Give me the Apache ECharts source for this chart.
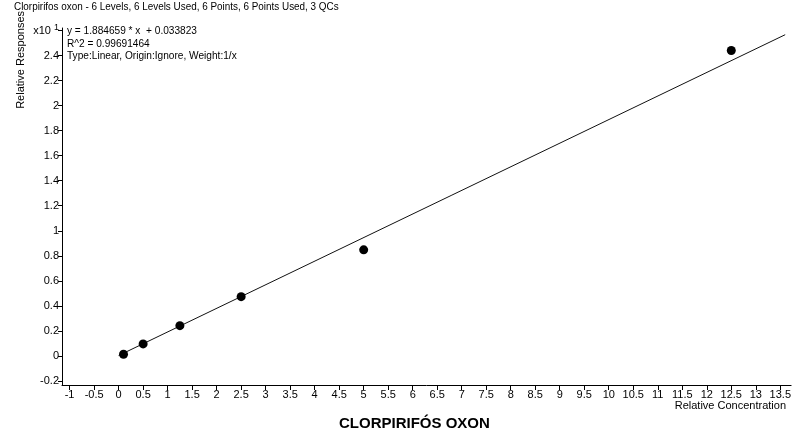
<!DOCTYPE html>
<html>
<head>
<meta charset="utf-8">
<script src="https://cdn.jsdelivr.net/npm/echarts@6/dist/echarts.min.js"></script>
<style>
  html, body { margin: 0; padding: 0; background: #fff; }
  #chart { width: 794px; height: 444px; }
</style>
</head>
<body>
<div id="chart"></div>
<script>
// Calibration points (relative concentration vs relative response, x10^1)
const concentrations = [0.1, 0.5, 1.25, 2.5, 5, 12.5];
const responses = [0.014, 0.096, 0.242, 0.474, 0.848, 2.44];

// Fitted curve y = 1.884659 * x + 0.033823 (responses shown in units of x10^1)
const fitSlope = 1.884659;
const fitIntercept = 0.033823;
const responseScale = 10;
const fitRange = [0, 13.6];

// Tick positions
const xTicks = [-1, -0.5, 0, 0.5, 1, 1.5, 2, 2.5, 3, 3.5, 4, 4.5, 5, 5.5, 6, 6.5, 7, 7.5, 8, 8.5, 9, 9.5, 10, 10.5, 11, 11.5, 12, 12.5, 13, 13.5];
const yTicks = [-0.2, 0, 0.2, 0.4, 0.6, 0.8, 1, 1.2, 1.4, 1.6, 1.8, 2, 2.2, 2.4, 2.6];

const titleText = 'Clorpirifos oxon - 6 Levels, 6 Levels Used, 6 Points, 6 Points Used, 3 QCs';
const fitLines = ['y = 1.884659 * x  + 0.033823', 'R^2 = 0.99691464', 'Type:Linear, Origin:Ignore, Weight:1/x'];
const compoundName = 'CLORPIRIFÓS OXON';

const smallFont = '"Liberation Sans", Arial, sans-serif';

const fitData = fitRange.map(x => [x, (fitSlope * x + fitIntercept) / responseScale]);
const pointData = concentrations.map((c, i) => [c, responses[i]]);

const chart = echarts.init(document.getElementById('chart'), null, { renderer: 'canvas' });

// Narrow text block helper (condensed look of the instrument report font)
function narrowText(x, y, text, scaleX, extra) {
  return {
    type: 'text', x: x, y: y, scaleX: scaleX, scaleY: 1, originX: 0, originY: 0,
    style: Object.assign({ text: text, font: '11px ' + smallFont, fill: '#000', verticalAlign: 'top', align: 'left' }, extra || {})
  };
}

chart.setOption({
  animation: false,
  backgroundColor: '#ffffff',
  grid: { left: 62, right: 2, top: 28, bottom: 59, containLabel: false },
  xAxis: {
    type: 'value',
    min: -1.155,
    max: 13.72,
    splitLine: { show: false },
    axisLine: { show: true, onZero: false, lineStyle: { color: '#000', width: 1 } },
    axisTick: { show: true, customValues: xTicks, length: 5, inside: false, lineStyle: { color: '#000' } },
    axisLabel: {
      customValues: xTicks,
      color: '#000',
      fontFamily: smallFont,
      fontSize: 11,
      margin: 4,
      formatter: v => String(v)
    }
  },
  yAxis: {
    type: 'value',
    min: -0.232,
    max: 2.62,
    splitLine: { show: false },
    axisLine: { show: true, onZero: false, lineStyle: { color: '#000', width: 1 } },
    axisTick: { show: true, customValues: yTicks, length: 4, inside: false, lineStyle: { color: '#000' } },
    axisLabel: {
      customValues: yTicks,
      color: '#000',
      fontFamily: smallFont,
      fontSize: 11,
      margin: 3,
      formatter: v => (Math.abs(v - 2.6) < 1e-9 ? '{b|x10 }{s|1}' : String(v)),
      rich: {
        b: { fontFamily: smallFont, fontSize: 11, color: '#000' },
        s: { fontFamily: smallFont, fontSize: 9, color: '#000', verticalAlign: 'top', padding: [0, 0, 6, 0] }
      }
    }
  },
  series: [
    {
      type: 'line',
      data: fitData,
      showSymbol: false,
      lineStyle: { color: '#111', width: 1 },
      silent: true,
      z: 2
    },
    {
      type: 'scatter',
      data: pointData,
      symbol: 'circle',
      symbolSize: 9,
      itemStyle: { color: '#000', opacity: 1 },
      z: 3
    }
  ],
  graphic: [
    narrowText(14, 1, titleText, 0.9),
    {
      type: 'text', left: 15, top: 11, rotation: Math.PI / 2, originX: 0, originY: 0,
      style: { text: 'Relative Responses', font: '11px ' + smallFont, fill: '#000' }
    },
    narrowText(67, 25, fitLines.join('\n'), 0.92, { lineHeight: 12.5 }),
    {
      type: 'text', right: 8, top: 400,
      style: { text: 'Relative Concentration', font: '11px ' + smallFont, fill: '#000' }
    },
    {
      type: 'text', left: 339, top: 416,
      style: { text: compoundName, font: 'bold 15px "Liberation Sans", Arial, sans-serif', fill: '#000' }
    }
  ]
});
</script>
</body>
</html>
